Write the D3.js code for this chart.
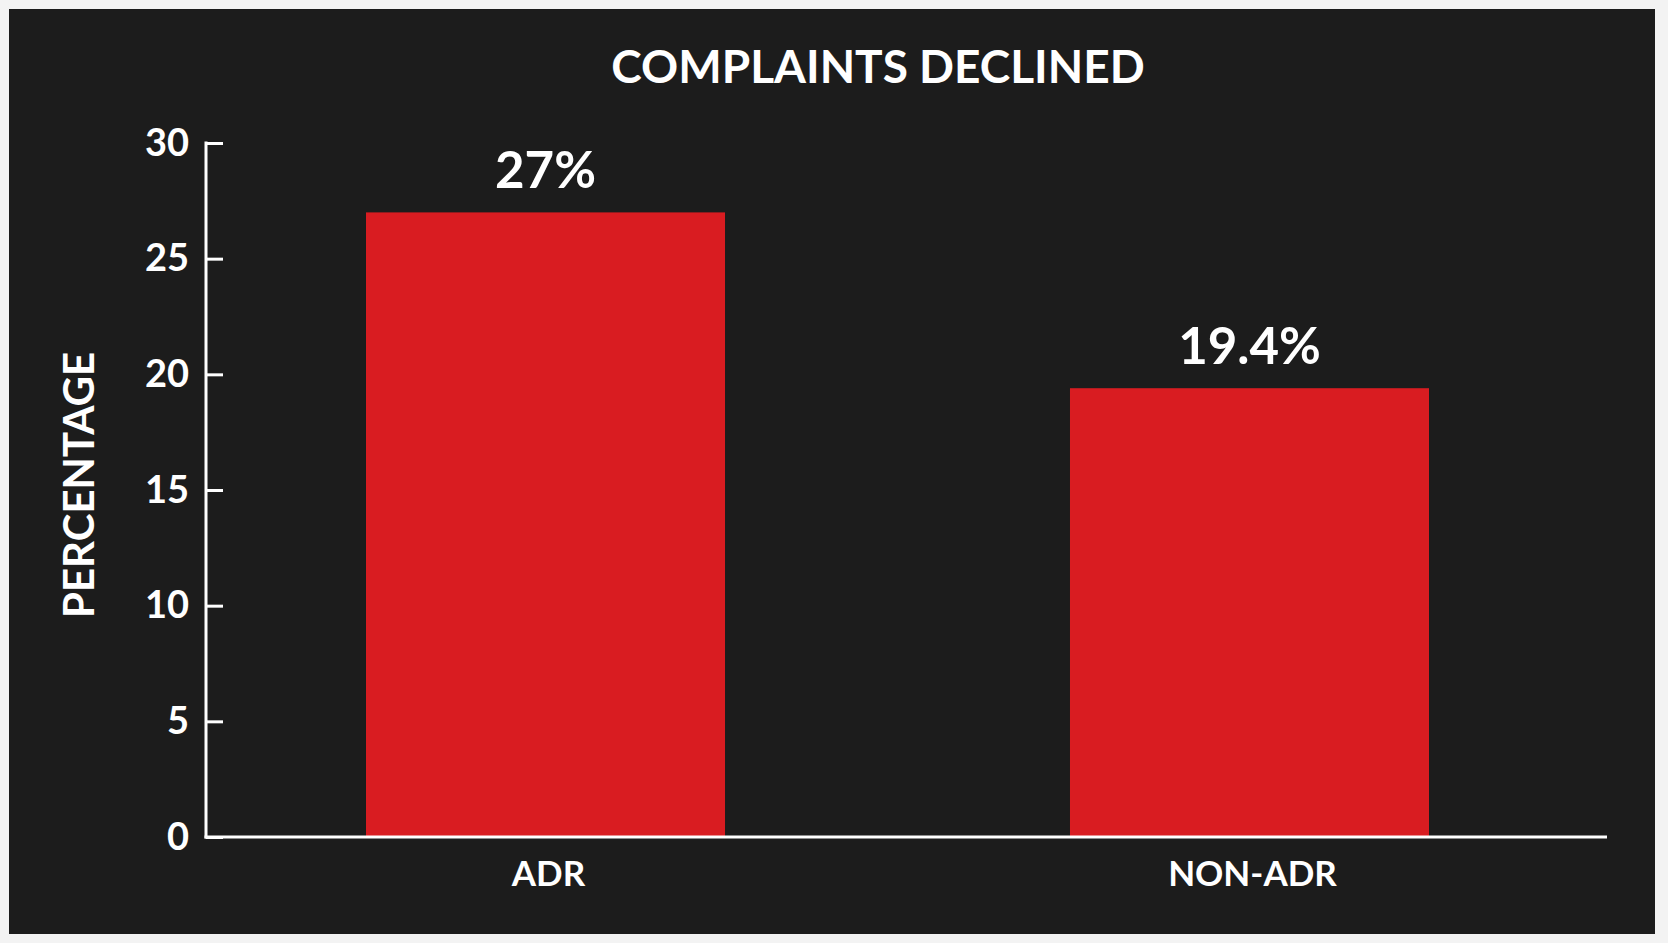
<!DOCTYPE html>
<html lang="en">
<head>
<meta charset="utf-8">
<title>Complaints declined</title>
<script src="https://cdn.jsdelivr.net/npm/d3@7"></script>
<style>
  html, body { margin: 0; padding: 0; background: #f3f3f3; }
  svg { display: block; }
  text { font-family: Lato, "Open Sans", sans-serif; font-weight: 700; fill: #ffffff; }
</style>
</head>
<body>
<script>
// data
var categories = ["ADR", "NON-ADR"];
var values = [27, 19.4];
var valueLabels = ["27%", "19.4%"];
var yTicks = [0, 5, 10, 15, 20, 25, 30];

var W = 1668, H = 943;

var svg = d3.select("body").append("svg")
    .attr("width", W)
    .attr("height", H);

// dark panel
svg.append("rect")
    .attr("x", 9).attr("y", 9)
    .attr("width", 1646).attr("height", 925)
    .attr("fill", "#1c1c1c");

var y = d3.scaleLinear().domain([0, 30]).range([837, 143]);
var x = d3.scaleBand().domain(categories).range([190, 1605])
    .paddingInner(0.49).paddingOuter(0.25);

// bars
svg.selectAll("rect.bar")
    .data(values)
    .enter().append("rect")
    .attr("class", "bar")
    .attr("x", function(d, i) { return x(categories[i]); })
    .attr("y", function(d) { return y(d); })
    .attr("width", x.bandwidth())
    .attr("height", function(d) { return y(0) - y(d); })
    .attr("fill", "#d91c21");

// value labels
svg.selectAll("text.val")
    .data(values)
    .enter().append("text")
    .attr("class", "val")
    .attr("x", function(d, i) { return x(categories[i]) + x.bandwidth() / 2; })
    .attr("y", function(d) { return y(d) - 24; })
    .attr("text-anchor", "middle")
    .attr("font-size", 51)
    .text(function(d, i) { return valueLabels[i]; });

// y axis, ticks pointing into the plot
var yAxis = d3.axisLeft(y).tickValues(yTicks).tickSize(-17).tickPadding(17);
var gy = svg.append("g")
    .attr("transform", "translate(206,0)")
    .call(yAxis);
gy.select(".domain").remove();
gy.selectAll(".tick line").attr("stroke", "#fff").attr("stroke-width", 3);
gy.selectAll(".tick text")
    .attr("font-size", 38)
    .attr("font-family", "Lato, sans-serif")
    .attr("font-weight", 700)
    .attr("fill", "#fff");

// axis lines
svg.append("line")
    .attr("x1", 206).attr("x2", 206)
    .attr("y1", y(30) - 1.5).attr("y2", y(0) + 1.5)
    .attr("stroke", "#fff").attr("stroke-width", 3);
svg.append("line")
    .attr("x1", 204.5).attr("x2", 1607)
    .attr("y1", y(0)).attr("y2", y(0))
    .attr("stroke", "#fff").attr("stroke-width", 3);

// category labels
svg.selectAll("text.cat")
    .data(categories)
    .enter().append("text")
    .attr("class", "cat")
    .attr("x", function(d) { return x(d) + x.bandwidth() / 2 + 3; })
    .attr("y", 886)
    .attr("text-anchor", "middle")
    .attr("font-size", 35)
    .text(function(d) { return d; });

// title
svg.append("text")
    .attr("x", 878).attr("y", 83)
    .attr("text-anchor", "middle")
    .attr("font-size", 46)
    .attr("font-weight", 900)
    .text("COMPLAINTS DECLINED");

// y axis title
svg.append("text")
    .attr("transform", "translate(94,485) rotate(-90)")
    .attr("text-anchor", "middle")
    .attr("font-size", 42)
    .attr("font-weight", 900)
    .text("PERCENTAGE");
</script>
</body>
</html>
